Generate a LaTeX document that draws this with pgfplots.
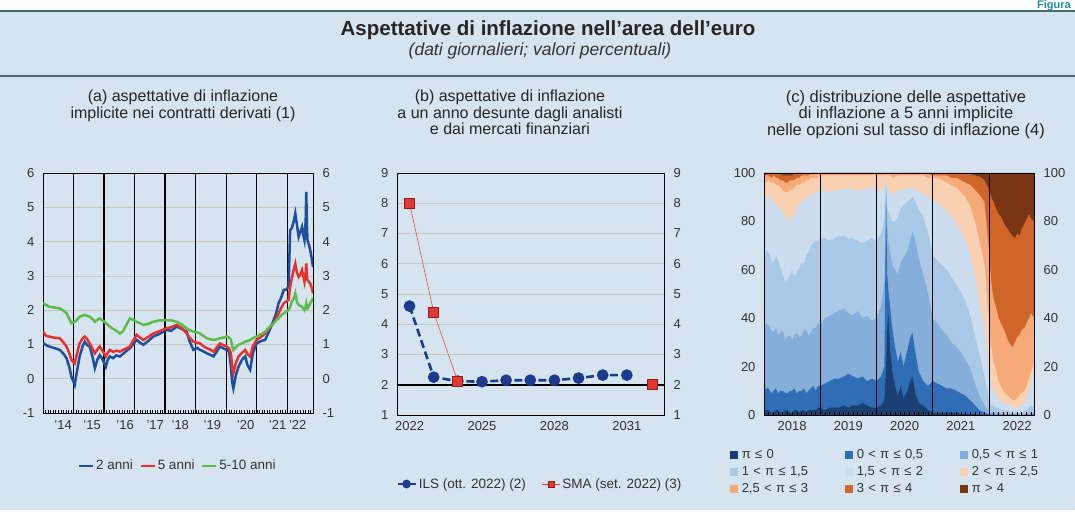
\documentclass[border=0pt]{standalone}
\usepackage{fontspec}
\setmainfont{Liberation Sans}
\usepackage{pgfplots}
\pgfplotsset{compat=1.18}
\usepackage{pgfplotstable}

\definecolor{bgblue}{HTML}{D5E4EF}
\definecolor{sepline}{HTML}{4A6878}
\definecolor{txt}{HTML}{333333}
\definecolor{figteal}{HTML}{1F8FA8}
\definecolor{ablue}{HTML}{1F4E9E}
\definecolor{ared}{HTML}{E8312B}
\definecolor{agreen}{HTML}{5DBB4A}
\definecolor{bblue}{HTML}{1E3A8C}
\definecolor{bred}{HTML}{E23A33}
\definecolor{bredd}{HTML}{8E1B1B}
\definecolor{gridgray}{HTML}{C4C4C4}
\definecolor{cA}{HTML}{1B3F73}
\definecolor{cB}{HTML}{2F6DB5}
\definecolor{cC}{HTML}{86AEDA}
\definecolor{cD}{HTML}{AAC9E7}
\definecolor{cE}{HTML}{CBDDEF}
\definecolor{cF}{HTML}{FAD0B2}
\definecolor{cG}{HTML}{F5AA78}
\definecolor{cH}{HTML}{D0652A}
\definecolor{cI}{HTML}{7A3614}

\pgfplotstableread{
t b r g
2014.00 1.05 1.38 2.22
2014.10 0.98 1.25 2.15
2014.20 0.94 1.23 2.10
2014.35 0.90 1.20 2.08
2014.55 0.84 1.18 2.05
2014.68 0.72 1.05 1.98
2014.77 0.60 0.94 1.91
2014.86 0.35 0.75 1.75
2014.93 0.06 0.55 1.62
2015.04 -0.18 0.45 1.66
2015.12 0.25 0.75 1.72
2015.20 0.65 1.03 1.81
2015.30 0.95 1.18 1.84
2015.37 1.08 1.23 1.86
2015.45 0.98 1.15 1.83
2015.53 0.94 1.03 1.81
2015.62 0.65 0.88 1.74
2015.70 0.31 0.74 1.66
2015.78 0.55 0.85 1.72
2015.86 0.69 0.94 1.76
2015.96 0.55 0.80 1.70
2016.06 0.35 0.65 1.62
2016.12 0.55 0.75 1.58
2016.19 0.65 0.84 1.52
2016.30 0.60 0.78 1.45
2016.40 0.68 0.82 1.40
2016.52 0.65 0.79 1.32
2016.62 0.72 0.84 1.38
2016.72 0.80 0.88 1.55
2016.85 0.89 0.94 1.76
2016.95 1.00 1.10 1.72
2017.07 1.13 1.28 1.66
2017.18 1.05 1.20 1.62
2017.29 0.99 1.13 1.57
2017.45 1.10 1.22 1.60
2017.61 1.23 1.32 1.66
2017.80 1.30 1.38 1.70
2018.05 1.42 1.47 1.71
2018.20 1.40 1.50 1.70
2018.38 1.52 1.57 1.66
2018.55 1.45 1.48 1.58
2018.71 1.37 1.32 1.47
2018.80 1.10 1.20 1.42
2018.93 0.84 1.08 1.37
2019.05 0.90 1.05 1.35
2019.15 0.84 1.03 1.32
2019.25 0.80 0.95 1.25
2019.37 0.74 0.89 1.18
2019.48 0.70 0.85 1.15
2019.59 0.65 0.79 1.13
2019.70 0.80 0.92 1.15
2019.80 0.94 1.03 1.18
2019.92 0.88 0.98 1.20
2020.02 0.84 0.94 1.23
2020.10 0.80 0.88 1.20
2020.16 0.35 0.74 1.13
2020.20 -0.10 0.35 0.95
2020.24 -0.28 0.16 0.84
2020.32 0.10 0.45 0.92
2020.41 0.35 0.65 0.99
2020.52 0.55 0.75 1.03
2020.63 0.65 0.84 1.08
2020.70 0.40 0.72 1.10
2020.79 0.26 0.65 1.13
2020.88 0.75 0.95 1.18
2021.00 1.03 1.13 1.23
2021.15 1.10 1.22 1.30
2021.28 1.13 1.32 1.37
2021.42 1.40 1.48 1.50
2021.56 1.71 1.62 1.62
2021.64 1.90 1.75 1.70
2021.72 2.20 1.91 1.76
2021.80 2.35 2.05 1.85
2021.89 2.59 2.20 1.91
2021.97 2.60 2.25 1.95
2022.05 2.68 2.30 2.00
2022.10 4.33 2.68 2.10
2022.16 4.40 2.95 2.25
2022.22 4.60 3.20 2.35
2022.27 4.82 3.36 2.49
2022.32 4.50 3.10 2.25
2022.38 4.14 2.97 2.15
2022.44 4.30 3.05 2.12
2022.49 4.43 3.17 2.10
2022.53 4.20 3.00 2.05
2022.57 4.04 2.83 2.00
2022.61 4.60 3.10 2.10
2022.63 5.45 3.36 2.20
2022.65 4.50 3.00 2.12
2022.67 4.04 2.88 2.05
2022.72 3.90 2.82 2.12
2022.76 3.75 2.78 2.20
2022.81 3.50 2.65 2.28
2022.85 3.26 2.49 2.34
}\adata

\pgfplotstableread{
t b
2022 4.6
2023 2.25
2024 2.12
2025 2.1
2026 2.15
2027 2.15
2028 2.15
2029 2.22
2030 2.32
2031 2.32
}\bils

\pgfplotstableread{
t r
2022 8.0
2023 4.4
2024 2.1
}\bsma

\pgfplotstableread{
t r
2032.05 2.0
}\bsmalong

\pgfplotstableread{
t c1 c2 c3 c4 c5 c6 c7 c8 c9
2018.00 0 0 0 0 0 0 0 0 0
2018.00 2 10 36 66 90 97 99 100 100
2018.04 2 11 38 68 89 96 99 100 100
2018.08 2 11 37 67 91 97 99 100 100
2018.13 1 9 35 64 88 96 98 100 100
2018.17 1 10 34 63 89 96 99 100 100
2018.21 2 11 36 66 87 95 98 100 100
2018.25 2 9 33 64 86 95 98 100 100
2018.29 1 10 34 61 85 94 97 99.5 100
2018.33 1 10 35 58 84 93 97 99 100
2018.38 2 9 31 55 82 92 96 99 100
2018.42 2 9 32 56 80 92 96 99 100
2018.46 1 10 33 58 82 93 97 99 100
2018.50 1 10 31 60 81 93 97 99 100
2018.54 2 11 33 57 83 94 97 99.5 100
2018.58 2 9 34 59 85 95 98 100 100
2018.63 1 10 32 61 87 95 98 100 100
2018.67 2 10 33 63 89 96 99 100 100
2018.71 2 11 35 62 88 96 99 100 100
2018.75 1 9 35 66 90 97 99 100 100
2018.79 2 10 33 67 90 97 99 100 100
2018.83 2 11 34 70 91 98 99.5 100 100
2018.88 2 12 36 71 91 98 99.5 100 100
2018.92 2 10 36 72 92 98 100 100 100
2018.96 3 12 38 72 92 98 100 100 100
2019.00 3 12 37 73 93 99 100 100 100
2019.08 2 13 40 73 93 99 100 100 100
2019.17 3 14 41 72 92 99 100 100 100
2019.25 3 15 42 73 93 99 100 100 100
2019.33 3 15 43 74 93 99 100 100 100
2019.42 4 16 44 74 93 99 100 100 100
2019.50 3 17 42 73 94 99 100 100 100
2019.58 4 16 41 73 93 99 100 100 100
2019.67 4 15 43 72 93 99 100 100 100
2019.75 5 16 40 71 93 99 100 100 100
2019.83 4 14 41 72 94 99 100 100 100
2019.92 3 15 39 73 94 99 100 100 100
2020.00 3 14 40 72 93 99 100 100 100
2020.08 4 16 45 75 93 99 100 100 100
2020.14 6 20 55 80 94 99 100 100 100
2020.17 20 90 94 96 97 99.5 100 100 100
2020.19 35 58 78 86 93 99 100 100 100
2020.21 42 52 72 84 93 99 100 100 100
2020.24 28 45 68 82 92 99 100 100 100
2020.28 18 36 62 80 91 98 100 100 100
2020.33 12 28 60 80 92 98.5 100 100 100
2020.38 8 22 58 82 93 99 100 100 100
2020.43 12 26 63 85 93 99 100 100 100
2020.48 7 20 65 87 93 99 100 100 100
2020.55 10 27 68 88 94 99 100 100 100
2020.60 14 32 72 89 94 99 100 100 100
2020.64 16 34 76 90 94 99 100 100 100
2020.69 9 26 72 88 93 99 100 100 100
2020.75 5 18 65 85 92 99 100 100 100
2020.83 4 14 58 82 92 99 100 100 100
2020.92 2 12 50 75 90 98 99.5 100 100
2021.00 1 14 40 66 89 98 99 100 100
2021.08 1 13 38 64 88 98 99 100 100
2021.17 1 12 35 62 86 97 99 100 100
2021.25 1 11 33 60 84 96 99 100 100
2021.33 1 11 30 57 82 95 98 100 100
2021.42 1 10 28 54 79 94 98 100 100
2021.50 0.5 9 26 51 76 92 97 100 100
2021.58 0.5 8 23 47 72 90 96 99.5 100
2021.67 0.5 6 19 41 66 86 95 99.5 100
2021.75 0.3 4 13 33 57 80 93 99 100
2021.83 0.2 2 8 25 47 72 91 98.5 100
2021.92 0.1 1 4 16 37 62 88 97 100
2022.00 0 0.3 1.5 7 18 38 68 93 100
2022.04 0 0.2 1 4 12 28 55 90 100
2022.08 0 0.2 1 4 10 22 48 88 100
2022.13 0 0.1 1 3 8 18 44 85 100
2022.17 0 0.1 1 3 7 14 40 83 100
2022.21 0 0.1 0.5 2 6 12 38 82 100
2022.25 0 0.1 0.5 2 5 10 36 80 100
2022.29 0 0 0.5 2 5 9 34 78 100
2022.33 0 0 0.5 2 4 8 31 77 100
2022.38 0 0 0.5 1 4 7 29 75 100
2022.42 0 0 0.5 1 3 6 28 74 100
2022.46 0 0 0.5 1 3 6 30 73 100
2022.50 0 0 0.5 1 3 7 32 75 100
2022.54 0 0 0.5 1 4 8 33 74 100
2022.58 0 0 0.5 1 4 9 35 77 100
2022.63 0 0 0.5 2 5 10 36 79 100
2022.67 0 0 0.5 2 7 12 38 81 100
2022.71 0 0 1 3 10 15 40 83 100
2022.75 0 0 1 4 14 18 42 81 100
2022.80 0 0 1 3 18 22 40 80 100
2022.80 0 0 0 0 0 0 0 0 0
}\cdata

\pgfplotsset{
  base/.style={scale only axis, anchor=south west,
    tick label style={font=\fontsize{13}{15}\selectfont, text=txt},
    /pgf/number format/assume math mode=true,
    axis line style={black, line width=0.8pt},
    major tick length=0pt,
  },
  rlab/.style={scale only axis, anchor=south west,
    hide x axis, axis y line*=right, y axis line style={draw=none},
    major tick length=0pt,
    tick label style={font=\fontsize{13}{15}\selectfont, text=txt},
    /pgf/number format/assume math mode=true,
    yticklabel style={xshift=6pt},
  },
}

\begin{document}
\begin{tikzpicture}
\path[use as bounding box] (0pt,0pt) rectangle (1075pt,522pt);
\fill[white] (0pt,0pt) rectangle (1075pt,522pt);
\fill[bgblue] (0pt,12pt) rectangle (1075pt,511pt);
\draw[line width=1.6pt, sepline] (0pt,511pt) -- (1075pt,511pt);
\draw[line width=1.2pt, sepline] (0pt,446pt) -- (1075pt,446pt);
\node[anchor=base east, text=figteal, font=\bfseries\fontsize{11}{13}\selectfont, inner sep=0pt] at (1071pt,513.3pt) {Figura};
\node[font=\bfseries\fontsize{20.5}{22}\selectfont, text=black!85] at (548pt,492pt) {Aspettative di inflazione nell’area dell’euro};
\node[font=\itshape\fontsize{17.5}{19}\selectfont, text=txt] at (540pt,471pt) {(dati giornalieri; valori percentuali)};

\node[anchor=north, align=center, font=\fontsize{16}{16.5}\selectfont, text=black!85, inner sep=0pt] at (183pt,432pt) {(a) aspettative di inflazione\\implicite nei contratti derivati (1)};
\node[anchor=north, align=center, font=\fontsize{16}{16.5}\selectfont, text=black!85, inner sep=0pt] at (510pt,432pt) {(b) aspettative di inflazione\\a un anno desunte dagli analisti\\e dai mercati finanziari};
\node[anchor=north, align=center, font=\fontsize{16.5}{16.5}\selectfont, text=black!85, inner sep=0pt] at (906pt,432pt) {(c) distribuzione delle aspettative\\di inflazione a 5 anni implicite\\nelle opzioni sul tasso di inflazione (4)};

% ---------------- Panel (a)
\begin{axis}[base, at={(43pt,109pt)}, width=270pt, height=240pt,
  xmin=2014, xmax=2022.85, ymin=-1, ymax=6,
  ytick={-1,0,...,6}, ymajorgrids, major grid style={gridgray, line width=0.6pt},
  xtick={2014.66,2015.61,2016.69,2017.68,2018.5,2019.55,2020.64,2021.69,2022.35},
  xticklabels={’14,’15,’16,’17,’18,’19,’20,’21,’22},
  extra x ticks={2015,2016,2017,2018,2019,2020,2021,2022}, extra x tick labels={},
  extra x tick style={grid=major, major grid style={black, line width=1.1pt}},
  minor xtick={2014,2014.083333,...,2022.85},
  xtick pos=bottom, ytick pos=left, tick align=inside, minor tick length=3pt,
  minor tick style={black, line width=0.5pt},
  yticklabel style={xshift=-5pt}, xticklabel style={yshift=-4pt},
  legend columns=3,
  legend style={at={(0.5,-0.22)}, anchor=center, draw=none, fill=none,
    font=\fontsize{13.5}{15}\selectfont, text=txt,
    /tikz/every even column/.append style={column sep=5pt}},
  legend image code/.code={\draw[#1, line width=1.8pt] (0pt,0pt) -- (14pt,0pt);},
]
\addplot[ablue, line width=2.5pt] table[x=t,y=b]{\adata}; \addlegendentry{2 anni}
\addplot[ared, line width=2.5pt] table[x=t,y=r]{\adata}; \addlegendentry{5 anni}
\addplot[agreen, line width=2.5pt] table[x=t,y=g]{\adata}; \addlegendentry{5-10 anni}
\end{axis}
\begin{axis}[rlab, at={(43pt,109pt)}, width=270pt, height=240pt,
  xmin=2014, xmax=2022.85, ymin=-1, ymax=6, ytick={-1,0,...,6}]
\end{axis}

% ---------------- Panel (b)
\begin{axis}[base, at={(397pt,107pt)}, width=267pt, height=242pt,
  xmin=2021.48, xmax=2032.54, ymin=1, ymax=9, ytick={1,...,9},
  ymajorgrids, major grid style={gridgray, line width=0.6pt},
  xtick={2022,2025,2028,2031}, xticklabels={2022,2025,2028,2031},
  extra y ticks={2}, extra y tick labels={},
  extra y tick style={grid=major, major grid style={black, line width=2.2pt}},
  yticklabel style={xshift=-5pt}, xticklabel style={yshift=-3pt},
  legend columns=2,
  legend style={at={(0.535,-0.285)}, anchor=center, draw=none, fill=none,
    font=\fontsize{13.5}{15}\selectfont, text=txt,
    /tikz/every even column/.append style={column sep=14pt}},
  legend image code/.code={\draw[mark repeat=2, mark phase=2, #1, mark size=3pt] plot coordinates {(0pt,0pt) (9pt,0pt) (18pt,0pt)};},
]
\addplot[bred, line width=0.5pt, mark=square*, mark size=5pt, mark options={fill=bred, draw=bredd, line width=0.8pt, solid}, forget plot] table[x=t,y=r]{\bsmalong};
\addplot[bblue, line width=2.6pt, dash pattern=on 8pt off 4pt, mark=*, mark size=4.5pt, mark options={solid, fill=bblue}] table[x=t,y=b]{\bils};
\addlegendentry{ILS (ott. 2022) (2)}
\addplot[bred, line width=0.5pt, mark=square*, mark size=5pt, mark options={fill=bred, draw=bredd, line width=0.8pt}] table[x=t,y=r]{\bsma};
\addlegendentry{SMA (set. 2022) (3)}
\end{axis}
\begin{axis}[rlab, at={(397pt,107pt)}, width=267pt, height=242pt,
  xmin=2021.48, xmax=2032.54, ymin=1, ymax=9, ytick={1,...,9}]
\end{axis}

% ---------------- Panel (c): fills
\begin{axis}[scale only axis, anchor=south west, at={(764pt,107pt)}, width=270pt, height=242pt,
  xmin=2018, xmax=2022.8, ymin=0, ymax=100, hide axis]
\addplot[fill=cI, draw=none] table[x=t,y=c9]{\cdata};
\addplot[fill=cH, draw=none] table[x=t,y=c8]{\cdata};
\addplot[fill=cG, draw=none] table[x=t,y=c7]{\cdata};
\addplot[fill=cF, draw=none] table[x=t,y=c6]{\cdata};
\addplot[fill=cE, draw=none] table[x=t,y=c5]{\cdata};
\addplot[fill=cD, draw=none] table[x=t,y=c4]{\cdata};
\addplot[fill=cC, draw=none] table[x=t,y=c3]{\cdata};
\addplot[fill=cB, draw=none] table[x=t,y=c2]{\cdata};
\addplot[fill=cA, draw=none] table[x=t,y=c1]{\cdata};
\end{axis}
% ---------------- Panel (c): frame, ticks, legend
\begin{axis}[base, at={(764pt,107pt)}, width=270pt, height=242pt,
  xmin=2018, xmax=2022.8, ymin=0, ymax=100, ytick={0,20,...,100},
  xtick={2018.5,2019.5,2020.5,2021.5,2022.5}, xticklabels={2018,2019,2020,2021,2022},
  extra x ticks={2019,2020,2021,2022}, extra x tick labels={},
  extra x tick style={grid=major, major grid style={black, line width=1pt}},
  minor xtick={2018,2018.083333,...,2022.8},
  xtick pos=bottom, ytick pos=left, tick align=inside, minor tick length=3pt,
  minor tick style={black, line width=0.5pt},
  yticklabel style={xshift=-5pt}, xticklabel style={yshift=-3pt},
  legend columns=3,
  legend style={at={(0.512,-0.13)}, anchor=north, draw=none, fill=none,
    font=\fontsize{13}{15}\selectfont, text=txt, row sep=4.5pt,
    nodes={text width=102pt, align=left, inner sep=1pt},
    /tikz/every odd column/.append style={column sep=3pt}},
  legend cell align=left,
  legend image code/.code={\fill[#1, draw=none] (0pt,-4pt) rectangle (8pt,4pt);},
]
\addlegendimage{fill=cA, draw=none}\addlegendentry{π ≤ 0}
\addlegendimage{fill=cB, draw=none}\addlegendentry{0 < π ≤ 0,5}
\addlegendimage{fill=cC, draw=none}\addlegendentry{0,5 < π ≤ 1}
\addlegendimage{fill=cD, draw=none}\addlegendentry{1 < π ≤ 1,5}
\addlegendimage{fill=cE, draw=none}\addlegendentry{1,5 < π ≤ 2}
\addlegendimage{fill=cF, draw=none}\addlegendentry{2 < π ≤ 2,5}
\addlegendimage{fill=cG, draw=none}\addlegendentry{2,5 < π ≤ 3}
\addlegendimage{fill=cH, draw=none}\addlegendentry{3 < π ≤ 4}
\addlegendimage{fill=cI, draw=none}\addlegendentry{π > 4}
\end{axis}
\begin{axis}[rlab, at={(764pt,107pt)}, width=270pt, height=242pt,
  xmin=2018, xmax=2022.8, ymin=0, ymax=100, ytick={0,20,...,100}]
\end{axis}
\end{tikzpicture}
\end{document}
